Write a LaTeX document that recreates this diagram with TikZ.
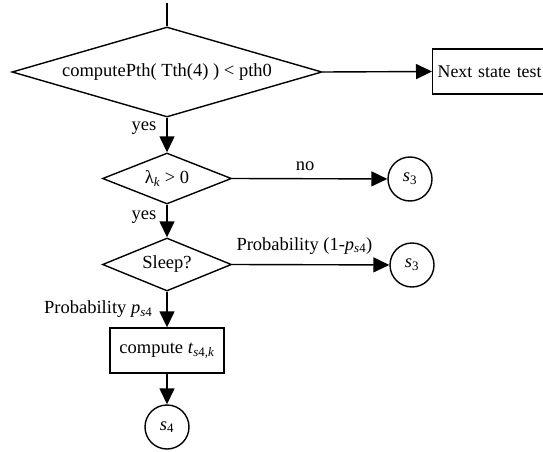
\documentclass[tikz,border=0pt]{standalone}
\usepackage{fontspec}
\setmainfont{Liberation Serif}
\usetikzlibrary{shapes.geometric,arrows.meta}
\begin{document}
\begin{tikzpicture}[x=1pt,y=-1pt,
  every node/.style={font=\fontsize{18.5}{21}\selectfont},
  line/.style={line width=1.4pt},
  arr/.style={line width=1.4pt,-{Triangle[length=16pt,width=15pt]}},
  dec/.style={draw,line width=1.4pt,diamond,inner sep=0pt},
  boxnode/.style={draw,line width=1.4pt,rectangle,inner sep=0pt},
  state/.style={draw,line width=1.4pt,circle,minimum size=44pt,inner sep=0pt},
  lbl/.style={inner sep=2pt}]
\useasboundingbox (0,0) rectangle (543,452);
\clip (0,0) rectangle (543,452);
\coordinate (start) at (167,3);
\node[dec,minimum width=310pt,minimum height=90pt,aspect=3.44] (d1) at (167,72) {computePth( Tth(4) ) {\textless} pth0};
\node[boxnode,anchor=west,minimum height=45pt,minimum width=130pt,align=left,text width=120pt,inner xsep=5pt,font=\fontsize{17.8}{21}\selectfont] (next) at (432,71.5) {Next state test};
\node[dec,minimum width=129pt,minimum height=51pt,aspect=2.5] (d2) at (167,178.5) {λ\textsubscript{\textit{k}} {\textgreater} 0};
\node[dec,minimum width=129pt,minimum height=53pt,aspect=2.5] (d3) at (167,264.5) {Sleep?};
\node[state] (s3a) at (410,179) {\textit{s}\textsubscript{3}};
\node[state] (s3b) at (412,265) {\textit{s}\textsubscript{3}};
\node[boxnode,minimum width=114pt,minimum height=45pt] (comp) at (167,350.5) {compute \textit{t}\textsubscript{\textit{s}4,\textit{k}}};
\node[state] (s4) at (167,427) {\textit{s}\textsubscript{4}};
\draw[line] (start) -- (d1.north);
\draw[arr] (d1.east) -- (next.west);
\draw[arr] (d1.south) -- node[lbl,pos=0.3,left,xshift=-8pt]{yes} (d2.north);
\draw[arr] (d2.east) -- node[lbl,pos=0.47,above,yshift=5pt]{no} (s3a);
\draw[arr] (d2.south) -- node[lbl,pos=0.38,left,xshift=-8pt]{yes} (d3.north);
\draw[arr] (d3.east) -- node[lbl,pos=0.46,above,yshift=8pt]{Probability (1-\textit{p}\textsubscript{\textit{s}4})} (s3b);
\draw[arr] (d3.south) -- node[lbl,pos=0.5,left,xshift=-12pt]{Probability \textit{p}\textsubscript{\textit{s}4}} (comp.north);
\draw[arr] (comp.south) -- (s4.north);
\end{tikzpicture}
\end{document}
